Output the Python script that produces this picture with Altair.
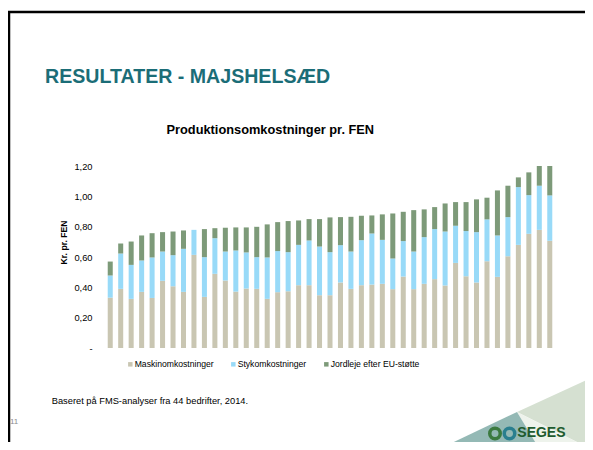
import altair as alt
import pandas as pd

# ---------------- data ----------------
farms = list(range(1, 44))
maskin = [0.332, 0.390, 0.324, 0.370, 0.330, 0.443, 0.407, 0.370, 0.614, 0.337,
          0.489, 0.445, 0.372, 0.392, 0.390, 0.324, 0.368, 0.374, 0.414, 0.414,
          0.348, 0.348, 0.432, 0.390, 0.414, 0.418, 0.423, 0.388, 0.471, 0.388,
          0.423, 0.454, 0.412, 0.561, 0.473, 0.432, 0.572, 0.469, 0.605, 0.680,
          0.753, 0.779, 0.707]
styk = [0.146, 0.233, 0.224, 0.207, 0.267, 0.193, 0.205, 0.284, 0.165, 0.262,
        0.235, 0.191, 0.271, 0.238, 0.209, 0.273, 0.271, 0.258, 0.266, 0.295,
        0.321, 0.284, 0.246, 0.246, 0.297, 0.337, 0.290, 0.202, 0.234, 0.248,
        0.308, 0.330, 0.356, 0.245, 0.298, 0.332, 0.276, 0.273, 0.258, 0.381,
        0.255, 0.291, 0.299]
jord = [0.092, 0.066, 0.154, 0.165, 0.160, 0.128, 0.156, 0.121, 0.000, 0.185,
        0.066, 0.157, 0.152, 0.165, 0.200, 0.218, 0.191, 0.205, 0.161, 0.141,
        0.181, 0.229, 0.185, 0.229, 0.161, 0.119, 0.168, 0.297, 0.193, 0.273,
        0.183, 0.145, 0.185, 0.156, 0.191, 0.216, 0.143, 0.297, 0.207, 0.064,
        0.150, 0.130, 0.194]
series_names = ["Maskinomkostninger", "Stykomkostninger", "Jordleje efter EU-støtte"]
y_ticks = [0, 0.2, 0.4, 0.6, 0.8, 1.0, 1.2]

slide_title = "RESULTATER - MAJSHELSÆD"
chart_title = "Produktionsomkostninger pr. FEN"
y_title = "Kr. pr. FEN"
footnote = "Baseret på FMS-analyser fra 44 bedrifter, 2014."
page_no = "11"
logo_text = "SEGES"

# ---------------- styles / layout ----------------
series_colors = ["#C9C6B2", "#98DAF8", "#7D9A79"]
FONT = "Liberation Sans"
TEAL = "#1b6d77"
W, H = 450, 182
PL, PT, PR, PB = 97, 158, 30, 94

rows = []
for i, f in enumerate(farms):
    for k, (name, vals) in enumerate(zip(series_names, [maskin, styk, jord])):
        rows.append({"farm": f, "serie": name, "val": vals[i], "ord": k})
df = pd.DataFrame(rows)

label_expr = "datum.value == 0 ? '-' : replace(format(datum.value, '.2f'), '.', ',')"

bars = alt.Chart(df).mark_bar().encode(
    x=alt.X("farm:O", axis=None,
            scale=alt.Scale(paddingInner=0.52, paddingOuter=0.26)),
    y=alt.Y("val:Q", stack="zero",
            scale=alt.Scale(domain=[0, 1.2], nice=False),
            axis=alt.Axis(values=y_ticks, labelExpr=label_expr, domain=False,
                          ticks=False, tickSize=0, labelPadding=13,
                          labelFont=FONT, labelFontSize=9.3, labelColor="#000",
                          gridColor="#a0a0a0", gridWidth=1,
                          title=y_title, titleFont=FONT, titleFontSize=8.6,
                          titleFontWeight="bold", titleColor="#000",
                          titleX=-42, titleY=76, titleAngle=270,
                          titleAlign="center", titleBaseline="middle")),
    color=alt.Color("serie:N",
                    scale=alt.Scale(domain=series_names, range=series_colors),
                    legend=alt.Legend(orient="none", legendX=21, legendY=194,
                                      direction="horizontal", title=None,
                                      symbolType="square", symbolSize=20,
                                      symbolStrokeWidth=0, labelFont=FONT,
                                      labelFontSize=8.65, labelColor="#000",
                                      columnPadding=15, labelOffset=0,
                                      labelLimit=0)),
    order=alt.Order("ord:Q"),
)


def txt(s, x, y, size, weight="normal", color="#000", align="left"):
    return alt.Chart(alt.Data(values=[{"t": s}])).mark_text(
        align=align, baseline="alphabetic", fontSize=size, fontWeight=weight,
        color=color, font=FONT
    ).encode(text="t:N", x=alt.value(x), y=alt.value(y))


# decorative triangles in page pixel coordinates (layout only)
xs = alt.Scale(domain=[105, 555], nice=False, zero=False)
ys = alt.Scale(domain=[166, 348], nice=False, zero=False, reverse=True)


def tri(pts, color):
    d = pd.DataFrame(pts, columns=["px", "py", "py2"])
    return alt.Chart(d).mark_area(color=color, opacity=1).encode(
        x=alt.X("px:Q", scale=xs, axis=None),
        y=alt.Y("py:Q", scale=ys, axis=None),
        y2="py2:Q",
    )


decor = [
    tri([[517, 412, 412], [593, 377, 450]], "#d5e0d1"),
    tri([[517, 412, 412], [540, 423.5, 450], [593, 450, 450]], "#eef3ec"),
    tri([[437, 450, 450], [517, 412, 450], [540, 450, 450]], "#94b9b5"),
]

one = alt.Data(values=[{"a": 1}])
borders = [
    alt.Chart(one).mark_rule(color="#000", strokeWidth=2.5).encode(
        x=alt.value(-96), y=alt.value(-154), y2=alt.value(280)),
    alt.Chart(one).mark_rule(color="#000", strokeWidth=2.5).encode(
        x=alt.value(-97), x2=alt.value(490), y=alt.value(-154)),
]
rings = [
    alt.Chart(one).mark_point(shape="circle", filled=False, size=110,
                              strokeWidth=3.5, color="#3b7a3f", opacity=1).encode(
        x=alt.value(390), y=alt.value(267.5)),
    alt.Chart(one).mark_point(shape="circle", filled=False, size=110,
                              strokeWidth=3.5, color="#2a7f8f", opacity=1).encode(
        x=alt.value(404.5), y=alt.value(267.5)),
]

texts = [
    txt(slide_title, -60, -82.7, 19.6, "bold", TEAL),
    txt(chart_title, 165.3, -31.8, 12.8, "bold", "#000", "center"),
    txt(footnote, -53.3, 238, 9.3),
    txt(page_no, -95, 258, 8, "normal", "#8c8c8c"),
    txt(logo_text, 412.3, 270.7, 14, "bold", "#1e5b2e"),
]

chart = alt.layer(*decor, bars, *borders, *rings, *texts).resolve_scale(
    x="independent", y="independent"
).properties(
    width=W, height=H,
    padding={"left": PL, "top": PT, "right": PR, "bottom": PB},
    autosize=alt.AutoSizeParams(type="none"),
    background="white",
).configure_view(stroke=None)

chart.save("out.html", embed_options={"renderer": "svg", "actions": False})
